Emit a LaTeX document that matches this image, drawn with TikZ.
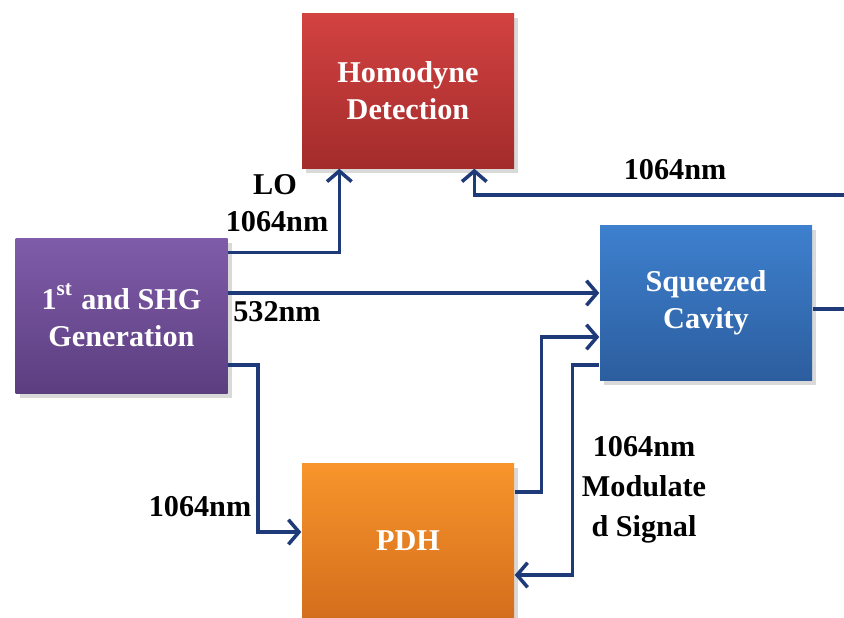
\documentclass[tikz,border=0pt]{standalone}
\usepackage{fontspec}
\setmainfont{Liberation Serif}
\usepackage{tikz}
\usetikzlibrary{positioning,arrows.meta,calc,shadows}
\definecolor{wire}{HTML}{1F3A78}
\definecolor{hdtop}{HTML}{D24241}
\definecolor{hdbot}{HTML}{A32C2B}
\definecolor{gentop}{HTML}{7F5CA9}
\definecolor{genbot}{HTML}{5C3E80}
\definecolor{sqtop}{HTML}{3E80CE}
\definecolor{sqbot}{HTML}{2C5E9F}
\definecolor{pdhtop}{HTML}{F8952B}
\definecolor{pdhbot}{HTML}{D46E1D}

\tikzset{
  block/.style={minimum width=2.12cm, minimum height=1.55cm, inner sep=0pt,
    align=center, text=white, font=\fontsize{8.6}{10.6}\selectfont\bfseries,
    drop shadow={shadow xshift=0.4mm, shadow yshift=-0.5mm, opacity=0.3}},
  link/.style={draw=wire, line width=1pt, -{Straight Barb[length=3pt,width=7pt,line width=1pt]}},
  plain/.style={draw=wire, line width=1pt},
  tag/.style={font=\fontsize{8.6}{11.4}\selectfont\bfseries, align=center, inner sep=0pt}
}

\begin{document}
\begin{tikzpicture}
  \useasboundingbox (0,0) rectangle (8.44,-6.17);
  % boxes
  \node[block, top color=hdtop, bottom color=hdbot] (hd) at (4.08,-0.905)
    {Homodyne\\Detection};
  \node[block, top color=gentop, bottom color=genbot] (gen) at (1.215,-3.155)
    {1\textsuperscript{st} and SHG\\Generation};
  \node[block, top color=sqtop, bottom color=sqbot] (sq) at (7.06,-3.025)
    {Squeezed\\Cavity};
  \node[block, top color=pdhtop, bottom color=pdhbot] (pdh) at (4.08,-5.405)
    {PDH};

  % connectors
  \coordinate (g532) at ([yshift=2.25mm]gen.east);
  \coordinate (turn) at (8.6,-1.95);
  \draw[link] ([yshift=-1.5mm]gen.north east) -| ([xshift=3.8mm]hd.south west);
  \draw[link] (g532) -- (g532 -| sq.west);
  \draw[link] ([yshift=-4.95mm]gen.east) -- ++(0.3,0) |- ([yshift=0.85mm]pdh.west);
  \draw[link] ([yshift=4.85mm]pdh.east) -- ++(0.27,0) |- ([yshift=-3.45mm]sq.west);
  \draw[link] ([yshift=-6.25mm]sq.west) -- ++(-0.27,0) |- ([yshift=-3.45mm]pdh.east);
  \draw[plain] ([yshift=-0.65mm]sq.east) -| (turn);
  \draw[link] (turn) -| ([xshift=17.3mm]hd.south west);

  % labels
  \node[tag] (lo) at (2.75,-1.85) {LO};
  \node[tag] (lonm) at (2.77,-2.22) {1064nm};
  \node[tag] (pump) at (2.77,-3.12) {532nm};
  \node[tag] (seed) at (2.0,-5.07) {1064nm};
  \node[tag] (ret) at (6.75,-1.70) {1064nm};
  \node[tag] (mod) at (6.44,-4.90) {1064nm\\Modulate\\d Signal};
\end{tikzpicture}
\end{document}
